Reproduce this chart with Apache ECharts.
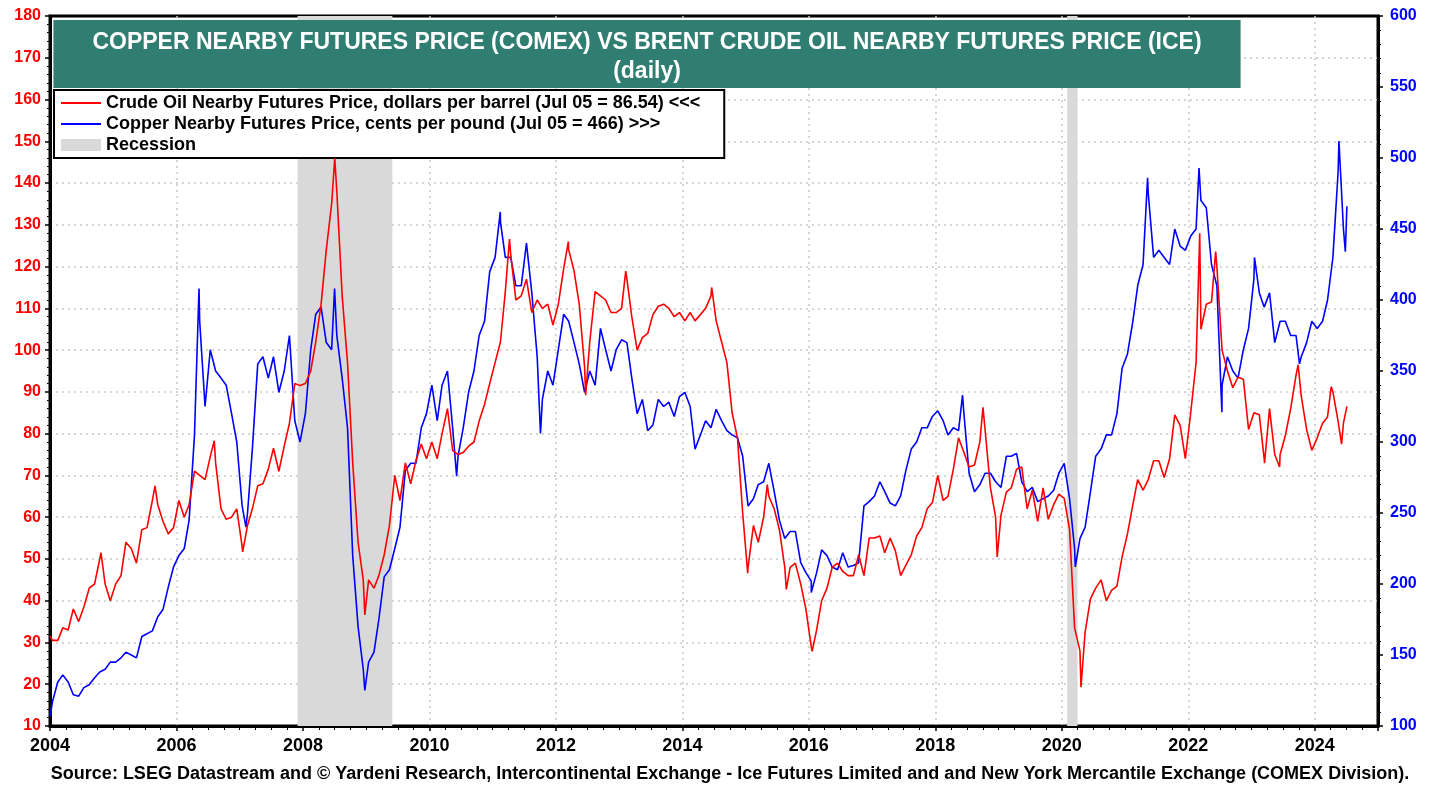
<!DOCTYPE html>
<html>
<head>
    <meta charset="utf-8">
    <title>Copper vs Brent</title>
    <script src="https://cdn.jsdelivr.net/npm/echarts@6/dist/echarts.min.js"></script>
    <style>
        html, body { margin: 0; padding: 0; background: #fff; }
        #chart { width: 1439px; height: 789px; }
    </style>
</head>
<body>
<div id="chart"></div>
<script>
// mid-month readings, Jan 2004 .. Jun 2024
var oilMonthly = [
    30.5, 30.5, 33.5, 33, 38, 35, 38.5, 43, 44, 50, 44, 40,          // 2004
    44, 46, 54, 52.5, 49, 57, 57.5, 64, 63, 59, 56, 57.5,            // 2005
    64, 60, 63, 71, 70, 69, 74.5, 73, 62, 59.5, 60, 62,              // 2006
    53, 58, 62, 67.5, 68, 71.5, 76.5, 71, 77, 82.5, 92, 91.5,        // 2007
    92, 95, 102, 111, 124, 135, 138, 113, 97, 73, 54, 45,            // 2008
    45, 43, 46, 51, 58, 70, 64, 73, 68, 73.5, 77.5, 74,              // 2009
    78, 74, 80, 86, 76, 75, 75.5, 77, 78, 83, 87, 92,                // 2010
    97, 102, 114, 123, 112, 113, 117, 109, 112, 110, 111, 106,       // 2011
    111, 119.5, 124, 119, 111, 96, 102, 114, 113, 112, 109, 109,     // 2012
    110, 117, 108, 100, 103, 104, 108.5, 110.5, 111, 110, 108, 109,  // 2013
    107, 109, 107, 108.5, 110, 113, 107, 102, 97, 85, 79, 61,        // 2014
    48, 58, 54, 60, 65, 62, 57, 48, 48, 49, 44, 38,                  // 2015
    29, 33, 40, 43, 48, 49, 47, 46, 46, 51, 46, 55,                  // 2016
    55, 55.5, 51.5, 55, 52, 46, 48.5, 51, 55.5, 57.5, 62, 63.5,      // 2017
    70, 64, 65, 71.5, 79, 75.5, 72, 72.5, 78, 81, 67, 60,            // 2018
    60.5, 66, 67, 71.5, 72, 62, 66.5, 59, 67, 59.5, 63, 65.5,        // 2019
    64.5, 57, 33.5, 28, 32.5, 40.5, 43, 45, 40, 42.5, 43.5, 50.5,    // 2020
    56, 63, 69, 66.5, 69, 73.5, 73.5, 69.5, 74, 84.5, 82, 74,        // 2021
    85, 97, 105, 111, 111.5, 120, 100, 95, 91, 93.5, 93, 81,         // 2022
    85, 84.5, 74, 86, 75, 75, 79.5, 86, 94, 89, 81, 76,              // 2023
    79, 82.5, 84, 90, 83, 82.5                                       // 2024
];
var copperMonthly = [
    117, 131, 136, 131, 122, 121, 127, 129, 134, 138, 140, 145,      // 2004
    145, 148, 152, 150, 148, 163, 165, 167, 177, 182, 198, 212,      // 2005
    220, 225, 245, 305, 385, 325, 365, 350, 345, 340, 320, 300,      // 2006
    255, 250, 295, 355, 360, 345, 360, 335, 350, 375, 315, 300,      // 2007
    320, 365, 390, 395, 370, 365, 375, 345, 310, 220, 170, 140,      // 2008
    145, 152, 175, 205, 210, 225, 240, 280, 285, 285, 310, 320,      // 2009
    340, 315, 340, 350, 310, 290, 310, 335, 350, 375, 385, 420,      // 2010
    430, 455, 430, 430, 410, 410, 440, 405, 360, 330, 350, 340,      // 2011
    365, 390, 385, 370, 355, 335, 350, 340, 380, 365, 350, 365,      // 2012
    372, 370, 345, 320, 330, 308, 312, 330, 325, 328, 318, 332,      // 2013
    335, 325, 295, 305, 315, 310, 323, 315, 308, 305, 303, 290,      // 2014
    255, 260, 270, 272, 285, 265, 245, 232, 237, 237, 215, 208,      // 2015
    202, 208, 224, 220, 212, 210, 222, 212, 213, 215, 255, 258,      // 2016
    262, 272, 265, 257, 255, 262, 280, 295, 300, 310, 310, 318,      // 2017
    322, 315, 305, 310, 308, 320, 278, 265, 270, 278, 278, 272,      // 2018
    268, 290, 290, 292, 272, 265, 268, 258, 260, 262, 266, 278,      // 2019
    285, 260, 225, 232, 240, 265, 290, 295, 305, 305, 320, 352,      // 2020
    362, 385, 410, 425, 475, 430, 435, 430, 425, 450, 438, 435,      // 2021
    445, 450, 470, 465, 425, 410, 340, 360, 350, 345, 365, 380,      // 2022
    415, 405, 395, 405, 370, 385, 385, 375, 375, 360, 370, 385,      // 2023
    380, 385, 400, 430, 490, 450                                     // 2024
];
// single-day highs / lows / endpoints seen on the chart
var oilDays = [
    ['2004-01-02', 31.5], ['2004-10-22', 51.5], ['2005-08-30', 67.5], ['2006-08-07', 78.3],
    ['2007-01-18', 51.7], ['2008-07-03', 146], ['2008-12-24', 36.6], ['2011-04-08', 126.6],
    ['2012-03-13', 126], ['2012-06-21', 89.2], ['2013-02-08', 118.9], ['2014-06-19', 115],
    ['2015-01-13', 46.6], ['2015-05-06', 67.8], ['2015-08-24', 42.7], ['2016-01-20', 27.9],
    ['2018-10-03', 86.3], ['2018-12-24', 50.5], ['2020-04-21', 19.3], ['2022-03-08', 128],
    ['2022-06-08', 123.6], ['2023-03-17', 72.9], ['2023-06-12', 72], ['2023-09-27', 96.5],
    ['2024-04-05', 91.2], ['2024-06-04', 77.5], ['2024-07-05', 86.54]
];
var copperDays = [
    ['2004-01-02', 107], ['2006-05-11', 408], ['2007-02-06', 240], ['2008-07-02', 408],
    ['2008-12-24', 125], ['2010-06-07', 276], ['2011-02-14', 462], ['2011-10-04', 306],
    ['2016-01-15', 194], ['2018-06-07', 333], ['2020-03-19', 212], ['2021-05-11', 486],
    ['2022-03-04', 493], ['2022-07-14', 321], ['2023-01-18', 430], ['2023-10-05', 355],
    ['2024-05-20', 512], ['2024-06-26', 434], ['2024-07-05', 466]
];
var recessions = [['2007-12-01', '2009-06-01'], ['2020-02-01', '2020-04-01']];
var xTicks = ['2004', '2006', '2008', '2010', '2012', '2014', '2016', '2018', '2020', '2022', '2024'];

var FONT = 'Arial, "Liberation Sans", sans-serif';
var OIL = 'Crude Oil Nearby Futures Price, dollars per barrel (Jul 05 = 86.54) <<<';
var COPPER = 'Copper Nearby Futures Price, cents per pound (Jul 05 = 466) >>>';

function toYear(s) {
    var d = Date.parse(s + 'T00:00:00Z');
    var y = new Date(d).getUTCFullYear();
    var a = Date.UTC(y, 0, 1), b = Date.UTC(y + 1, 0, 1);
    return y + (d - a) / (b - a);
}
function buildSeries(monthly, days) {
    var pts = [];
    for (var i = 0; i < monthly.length; i++) {
        var y = 2004 + Math.floor(i / 12), m = i % 12 + 1;
        pts.push([toYear(y + '-' + (m < 10 ? '0' + m : m) + '-15'), monthly[i]]);
    }
    days.forEach(function (d) { pts.push([toYear(d[0]), d[1]]); });
    pts.sort(function (p, q) { return p[0] - q[0]; });
    return pts;
}

var chart = echarts.init(document.getElementById('chart'));
chart.setOption({
    animation: false,
    title: [{
        text: 'COPPER NEARBY FUTURES PRICE (COMEX) VS BRENT CRUDE OIL NEARBY FUTURES PRICE (ICE)\n(daily)',
        left: 608, top: 20, textAlign: 'center',
        backgroundColor: '#2f7e71',
        padding: [8, 39, 2, 39],
        textStyle: { color: '#fff', fontSize: 23, fontWeight: 'bold', fontFamily: FONT, lineHeight: 29 }
    }, {
        text: 'Source: LSEG Datastream and \u00a9 Yardeni Research, Intercontinental Exchange - Ice Futures Limited and and New York Mercantile Exchange (COMEX Division).',
        left: 730, top: 765, textAlign: 'center', padding: 0,
        textStyle: { color: '#000', fontSize: 18, fontWeight: 'bold', fontFamily: FONT }
    }],
    legend: {
        orient: 'vertical', left: 54, top: 90,
        backgroundColor: '#fff', borderColor: '#000', borderWidth: 2,
        padding: [3, 24, 3, 6],
        itemWidth: 40, itemHeight: 12, itemGap: 1,
        itemStyle: { opacity: 0 },
        textStyle: { color: '#000', fontSize: 18, fontWeight: 'bold', fontFamily: FONT, lineHeight: 20 },
        data: [
            { name: OIL },
            { name: COPPER },
            { name: 'Recession', icon: 'rect', itemStyle: { color: '#d9d9d9', opacity: 1 } }
        ]
    },
    grid: {
        left: 50, right: 61, top: 16, bottom: 63,
        show: true, borderColor: '#000', borderWidth: 3, backgroundColor: 'transparent'
    },
    xAxis: {
        type: 'value', min: 2004, max: 2025, interval: 2,
        axisLine: { lineStyle: { color: '#000', width: 3 } },
        axisTick: { length: 5, lineStyle: { color: '#000', width: 1.5 } },
        minorTick: { show: true, splitNumber: 8, length: 4, lineStyle: { color: '#000', width: 1 } },
        axisLabel: {
            margin: 11, showMaxLabel: false, color: '#000', fontSize: 18, fontWeight: 'bold', fontFamily: FONT,
            formatter: function (v) { var s = String(Math.round(v)); return xTicks.indexOf(s) >= 0 ? s : ''; }
        },
        splitLine: { show: true, showMinLine: false, showMaxLine: false, lineStyle: { color: '#c8c8c8', width: 1.5, type: [2, 4] } }
    },
    yAxis: [{
        type: 'value', min: 10, max: 180, interval: 10, position: 'left',
        axisLine: { show: true, lineStyle: { color: '#000', width: 3 } },
        axisTick: { show: true, length: 5, lineStyle: { color: '#000', width: 1.5 } },
        minorTick: { show: true, splitNumber: 5, length: 3, lineStyle: { color: '#000', width: 1 } },
        axisLabel: { margin: 9, color: '#ff0000', fontSize: 16, fontWeight: 'bold', fontFamily: FONT },
        splitLine: { show: true, showMinLine: false, showMaxLine: false, lineStyle: { color: '#c8c8c8', width: 1.5, type: [2, 4] } }
    }, {
        type: 'value', min: 100, max: 600, interval: 50, position: 'right',
        axisLine: { show: true, lineStyle: { color: '#000', width: 3 } },
        axisTick: { show: true, length: 5, lineStyle: { color: '#000', width: 1.5 } },
        minorTick: { show: true, splitNumber: 5, length: 3, lineStyle: { color: '#000', width: 1 } },
        axisLabel: { margin: 12, color: '#0000ff', fontSize: 16, fontWeight: 'bold', fontFamily: FONT },
        splitLine: { show: false }
    }],
    series: [{
        name: 'Recession', type: 'line', data: [], z: 1,
        itemStyle: { color: '#d9d9d9' },
        markArea: {
            silent: true,
            itemStyle: { color: '#d9d9d9' },
            data: recessions.map(function (r) { return [{ xAxis: toYear(r[0]) }, { xAxis: toYear(r[1]) }]; })
        }
    }, {
        name: COPPER,
        type: 'line', yAxisIndex: 1, z: 3, symbol: 'none',
        itemStyle: { color: '#0000ff' },
        lineStyle: { color: '#0000ff', width: 1.6 },
        data: buildSeries(copperMonthly, copperDays)
    }, {
        name: OIL,
        type: 'line', yAxisIndex: 0, z: 4, symbol: 'none',
        itemStyle: { color: '#ff0000' },
        lineStyle: { color: '#ff0000', width: 1.6 },
        data: buildSeries(oilMonthly, oilDays)
    }]
});
</script>
</body>
</html>
